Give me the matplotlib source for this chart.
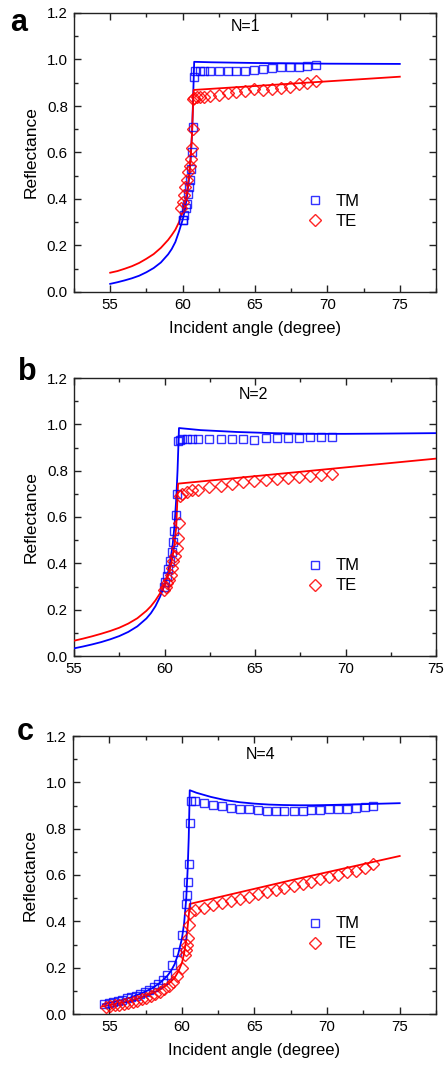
import matplotlib
matplotlib.use("Agg")
import matplotlib.pyplot as plt
from matplotlib.ticker import MultipleLocator, FormatStrFormatter
from matplotlib.lines import Line2D

plt.rcParams['font.family'] = ['Liberation Sans', 'DejaVu Sans']

# ---------------- Panel a (N=1) ----------------
a_tm_x = [60.0, 60.05, 60.11, 60.23, 60.3, 60.34, 60.41, 60.48, 60.55, 60.62, 60.71, 60.76, 60.85,
          61.22, 61.45, 61.87, 62.49, 63.11, 63.71, 64.33, 64.95, 65.55, 66.17, 66.8, 67.39, 68.01, 68.59, 69.2]
a_tm_y = [0.31, 0.31, 0.33, 0.36, 0.38, 0.42, 0.45, 0.48, 0.53, 0.60, 0.71, 0.926, 0.95,
          0.952, 0.952, 0.952, 0.952, 0.952, 0.952, 0.952, 0.955, 0.958, 0.962, 0.966, 0.969, 0.969, 0.972, 0.976]
a_te_x = [59.91, 60.0, 60.1, 60.19, 60.28, 60.39, 60.5, 60.57, 60.64, 60.73, 60.72, 60.76, 60.99,
          61.22, 61.45, 61.87, 62.49, 63.11, 63.71, 64.33, 64.95, 65.55, 66.17, 66.8, 67.39, 68.01, 68.59, 69.2]
a_te_y = [0.363, 0.387, 0.416, 0.45, 0.48, 0.516, 0.54, 0.57, 0.62, 0.70, 0.83, 0.833, 0.837,
          0.84, 0.84, 0.843, 0.847, 0.854, 0.859, 0.865, 0.872, 0.869, 0.872, 0.876, 0.883, 0.893, 0.897, 0.907]
a_fit_tm_x = [55, 55.5, 56, 56.5, 57, 57.5, 58, 58.5, 59, 59.25, 59.5, 59.75, 60.0, 60.15, 60.3, 60.45,
              60.55, 60.65, 60.72, 60.8, 62, 65, 70, 75]
a_fit_tm_y = [0.035, 0.042, 0.05, 0.059, 0.07, 0.085, 0.103, 0.127, 0.162, 0.185, 0.215, 0.26, 0.31, 0.35,
              0.41, 0.49, 0.57, 0.68, 0.82, 0.99, 0.988, 0.985, 0.982, 0.981]
a_fit_te_x = [55, 55.5, 56, 56.5, 57, 57.5, 58, 58.5, 59, 59.25, 59.5, 59.75, 60.0, 60.15, 60.3, 60.45,
              60.55, 60.65, 60.76, 75]
a_fit_te_y = [0.083, 0.09, 0.1, 0.111, 0.125, 0.143, 0.163, 0.19, 0.224, 0.245, 0.268, 0.3, 0.345, 0.38,
              0.43, 0.5, 0.57, 0.68, 0.869, 0.926]

# ---------------- Panel b (N=2) ----------------
b_tm_x = [59.97, 60.05, 60.14, 60.22, 60.31, 60.4, 60.48, 60.55, 60.62, 60.7, 60.76, 60.86, 60.95,
          61.22, 61.54, 61.85, 62.48, 63.1, 63.73, 64.34, 64.96, 65.59, 66.2, 66.8, 67.43, 68.04, 68.65, 69.25]
b_tm_y = [0.30, 0.32, 0.345, 0.375, 0.41, 0.45, 0.49, 0.54, 0.61, 0.70, 0.93, 0.931, 0.937,
          0.937, 0.938, 0.938, 0.937, 0.937, 0.936, 0.937, 0.934, 0.939, 0.939, 0.942, 0.942, 0.944, 0.944, 0.947]
b_te_x = [59.97, 60.06, 60.16, 60.25, 60.34, 60.41, 60.49, 60.58, 60.67, 60.73, 60.78, 60.86, 60.95,
          61.22, 61.54, 61.85, 62.48, 63.1, 63.73, 64.34, 64.96, 65.59, 66.2, 66.8, 67.43, 68.04, 68.65, 69.25]
b_te_y = [0.285, 0.30, 0.314, 0.33, 0.35, 0.38, 0.41, 0.43, 0.465, 0.51, 0.576, 0.69, 0.70,
          0.707, 0.715, 0.718, 0.73, 0.735, 0.742, 0.75, 0.754, 0.758, 0.764, 0.77, 0.772, 0.778, 0.782, 0.787]
b_fit_tm_x = [55, 55.5, 56, 56.5, 57, 57.5, 58, 58.5, 59, 59.25, 59.5, 59.75, 60.0, 60.15, 60.3, 60.45,
              60.55, 60.65, 60.72, 60.8, 62, 64, 66, 68, 70, 72, 75]
b_fit_tm_y = [0.033, 0.041, 0.05, 0.06, 0.072, 0.086, 0.104, 0.128, 0.162, 0.185, 0.215, 0.255, 0.305, 0.345,
              0.40, 0.48, 0.56, 0.68, 0.80, 0.984, 0.975, 0.967, 0.962, 0.959, 0.959, 0.96, 0.962]
b_fit_te_x = [55, 55.5, 56, 56.5, 57, 57.5, 58, 58.5, 59, 59.25, 59.5, 59.75, 60.0, 60.15, 60.3, 60.45,
              60.55, 60.65, 60.75, 75]
b_fit_te_y = [0.066, 0.075, 0.085, 0.096, 0.108, 0.122, 0.14, 0.163, 0.195, 0.215, 0.24, 0.27, 0.305, 0.335,
              0.375, 0.43, 0.48, 0.56, 0.744, 0.852]

# ---------------- Panel c (N=4) ----------------
c_tm_x = [54.65, 54.96, 55.27, 55.58, 55.89, 56.2, 56.51, 56.82, 57.13, 57.44, 57.75, 58.06, 58.37, 58.68,
          58.99, 59.31, 59.64, 59.98, 60.25, 60.35, 60.42, 60.47, 60.54, 60.6, 60.93,
          61.5, 62.15, 62.77, 63.37, 64.0, 64.62, 65.22, 65.84, 66.47, 67.06, 67.69, 68.31, 68.91,
          69.53, 70.16, 70.76, 71.38, 71.98, 72.58, 73.18]
c_tm_y = [0.042, 0.047, 0.052, 0.057, 0.062, 0.067, 0.073, 0.079, 0.086, 0.094, 0.104, 0.115, 0.128, 0.146,
          0.168, 0.21, 0.268, 0.342, 0.474, 0.514, 0.568, 0.647, 0.825, 0.921, 0.921,
          0.91, 0.904, 0.897, 0.89, 0.884, 0.883, 0.88, 0.878, 0.878, 0.877, 0.877, 0.878, 0.88,
          0.882, 0.884, 0.884, 0.887, 0.89, 0.893, 0.90]
c_te_x = [54.77, 55.07, 55.39, 55.69, 55.99, 56.31, 56.61, 56.92, 57.24, 57.54, 57.84, 58.16, 58.46, 58.76,
          59.08, 59.38, 59.68, 60.0, 60.21, 60.3, 60.35, 60.42, 60.49, 60.54, 60.9,
          61.5, 62.15, 62.77, 63.37, 64.0, 64.62, 65.22, 65.84, 66.47, 67.06, 67.69, 68.31, 68.91,
          69.53, 70.16, 70.76, 71.38, 71.98, 72.58, 73.18]
c_te_y = [0.03, 0.034, 0.037, 0.04, 0.044, 0.047, 0.052, 0.057, 0.063, 0.069, 0.076, 0.085, 0.095, 0.108,
          0.123, 0.14, 0.162, 0.198, 0.253, 0.275, 0.297, 0.327, 0.385, 0.438, 0.449,
          0.459, 0.471, 0.481, 0.488, 0.495, 0.507, 0.517, 0.527, 0.535, 0.543, 0.553, 0.561, 0.571,
          0.581, 0.593, 0.60, 0.611, 0.619, 0.632, 0.646]
c_fit_tm_x = [54.55, 55, 55.5, 56, 56.5, 57, 57.5, 58, 58.5, 59, 59.25, 59.5, 59.75, 60.0, 60.15, 60.3,
              60.4, 60.47, 60.54, 61, 62, 63, 64, 65, 66, 67, 68, 69, 70, 72, 75]
c_fit_tm_y = [0.042, 0.048, 0.055, 0.062, 0.072, 0.084, 0.097, 0.113, 0.135, 0.165, 0.186, 0.215, 0.26,
              0.325, 0.39, 0.50, 0.63, 0.76, 0.966, 0.955, 0.937, 0.923, 0.914, 0.908, 0.904, 0.902,
              0.901, 0.901, 0.902, 0.905, 0.91]
c_fit_te_x = [54.55, 55, 55.5, 56, 56.5, 57, 57.5, 58, 58.5, 59, 59.25, 59.5, 59.75, 60.0, 60.15, 60.3,
              60.4, 60.48, 60.54, 67.5, 75]
c_fit_te_y = [0.033, 0.038, 0.044, 0.05, 0.057, 0.066, 0.077, 0.09, 0.105, 0.127, 0.14, 0.157, 0.183,
              0.22, 0.26, 0.32, 0.38, 0.43, 0.475, 0.577, 0.682]

panels = [
    dict(tag='a', title='N=1', xlim=(52.5, 77.5), show_xlabel=True,
         tm=(a_tm_x, a_tm_y), te=(a_te_x, a_te_y), ftm=(a_fit_tm_x, a_fit_tm_y), fte=(a_fit_te_x, a_fit_te_y),
         rect=[74/445, 1 - 292/1070, 362/445, 279/1070], tpos=(0.474, 0.953), lab=(19/445, 1 - 23/1070)),
    dict(tag='b', title='N=2', xlim=(55, 75), show_xlabel=False,
         tm=(b_tm_x, b_tm_y), te=(b_te_x, b_te_y), ftm=(b_fit_tm_x, b_fit_tm_y), fte=(b_fit_te_x, b_fit_te_y),
         rect=[74/445, 1 - 656/1070, 362/445, 278/1070], tpos=(0.495, 0.941), lab=(27/445, 1 - 372/1070)),
    dict(tag='c', title='N=4', xlim=(52.5, 77.5), show_xlabel=True,
         tm=(c_tm_x, c_tm_y), te=(c_te_x, c_te_y), ftm=(c_fit_tm_x, c_fit_tm_y), fte=(c_fit_te_x, c_fit_te_y),
         rect=[73/445, 1 - 1014/1070, 363/445, 278/1070], tpos=(0.518, 0.935), lab=(25/445, 1 - 732/1070)),
]

BLUE = '#0000ff'
RED = '#ff0000'
SQ_MS, DM_MS = 5.6, 6.3

fig = plt.figure(figsize=(4.45, 10.70), dpi=100)

for p in panels:
    ax = fig.add_axes(p['rect'])
    ax.plot(p['ftm'][0], p['ftm'][1], color=BLUE, lw=1.3, zorder=3)
    ax.plot(p['fte'][0], p['fte'][1], color=RED, lw=1.3, zorder=3)
    ax.plot(p['tm'][0], p['tm'][1], linestyle='none', marker='s', ms=SQ_MS, mfc='none',
            mec=BLUE, mew=1.0, alpha=0.8, zorder=4)
    ax.plot(p['te'][0], p['te'][1], linestyle='none', marker='D', ms=DM_MS, mfc='none',
            mec=RED, mew=1.0, alpha=0.85, zorder=4)
    ax.set_xlim(*p['xlim'])
    ax.set_ylim(0, 1.2)
    ax.xaxis.set_major_locator(MultipleLocator(5))
    ax.xaxis.set_minor_locator(MultipleLocator(2.5))
    ax.yaxis.set_major_locator(MultipleLocator(0.2))
    ax.yaxis.set_minor_locator(MultipleLocator(0.1))
    ax.yaxis.set_major_formatter(FormatStrFormatter('%.1f'))
    ax.tick_params(which='both', direction='in', top=True, right=True, labelsize=10.8,
                   color='#222222', width=1.0)
    ax.tick_params(which='major', length=5, pad=4.5)
    ax.tick_params(which='minor', length=3)
    for s in ax.spines.values():
        s.set_linewidth(1.0)
        s.set_color('#222222')
    ax.set_ylabel('Reflectance', fontsize=12.5, labelpad=6)
    if p['show_xlabel']:
        ax.set_xlabel('Incident angle (degree)', fontsize=12, labelpad=6)
    ax.text(p['tpos'][0], p['tpos'][1], p['title'], transform=ax.transAxes,
            ha='center', va='center', fontsize=11.5)
    handles = [Line2D([], [], linestyle='none', marker='s', ms=SQ_MS, mfc='none', mec=BLUE, mew=1.0, alpha=0.8),
               Line2D([], [], linestyle='none', marker='D', ms=DM_MS, mfc='none', mec=RED, mew=1.0, alpha=0.85)]
    ax.legend(handles, ['TM', 'TE'], loc='center left', bbox_to_anchor=(0.59, 0.288),
              frameon=False, fontsize=12, handlelength=1.5, handletextpad=0.5, labelspacing=0.3)
    fig.text(p['lab'][0], p['lab'][1], p['tag'], fontsize=22, fontweight='bold',
             ha='center', va='center')

fig.savefig('out.png', dpi=100)
